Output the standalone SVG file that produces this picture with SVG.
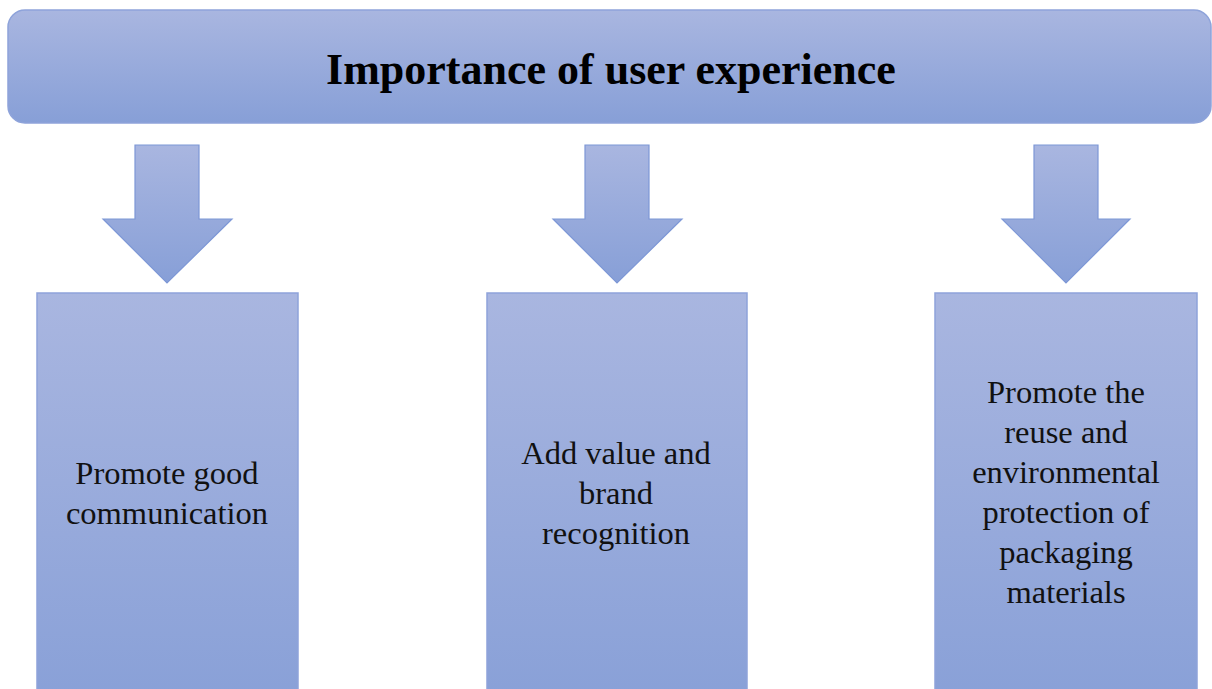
<svg xmlns="http://www.w3.org/2000/svg" width="1212" height="689" viewBox="0 0 1212 689">
<defs>
<linearGradient id="g" x1="0" y1="0" x2="0" y2="1">
<stop offset="0" stop-color="#a9b6e0"/>
<stop offset="1" stop-color="#879fd7"/>
</linearGradient>
<style>
.shape{fill:url(#g);stroke:#8ea3da;stroke-width:1.5}
.arrow{fill:url(#g);stroke:#7d97d6;stroke-width:1.2}
.title{font-family:"Liberation Serif",serif;font-weight:bold;font-size:44px;fill:#000;text-anchor:middle}
.lbl{font-family:"Liberation Serif",serif;font-size:32.5px;fill:#111;text-anchor:middle}
</style>
</defs>
<g id="banner">
<rect class="shape" x="8" y="10" width="1203" height="113" rx="17"/>
<text class="title" x="611" y="84">Importance of user experience</text>
</g>
<g id="connectors">
<path class="arrow" d="M135,145 H199 V219 H232 L167,283 L103,219 H135 Z"/>
<path class="arrow" d="M585,145 H649 V219 H682 L617,283 L553,219 H585 Z"/>
<path class="arrow" d="M1034,145 H1098 V219 H1130 L1066,283 L1002,219 H1034 Z"/>
</g>
<g id="box1">
<rect class="shape" x="37" y="293" width="261" height="430"/>
<text class="lbl" x="167" y="484">Promote good</text>
<text class="lbl" x="167" y="524">communication</text>
</g>
<g id="box2">
<rect class="shape" x="487" y="293" width="260" height="430"/>
<text class="lbl" x="616" y="464">Add value and</text>
<text class="lbl" x="616" y="504">brand</text>
<text class="lbl" x="616" y="544">recognition</text>
</g>
<g id="box3">
<rect class="shape" x="935" y="293" width="262" height="430"/>
<text class="lbl" x="1066" y="403">Promote the</text>
<text class="lbl" x="1066" y="443">reuse and</text>
<text class="lbl" x="1066" y="483">environmental</text>
<text class="lbl" x="1066" y="523">protection of</text>
<text class="lbl" x="1066" y="563">packaging</text>
<text class="lbl" x="1066" y="603">materials</text>
</g>
</svg>
